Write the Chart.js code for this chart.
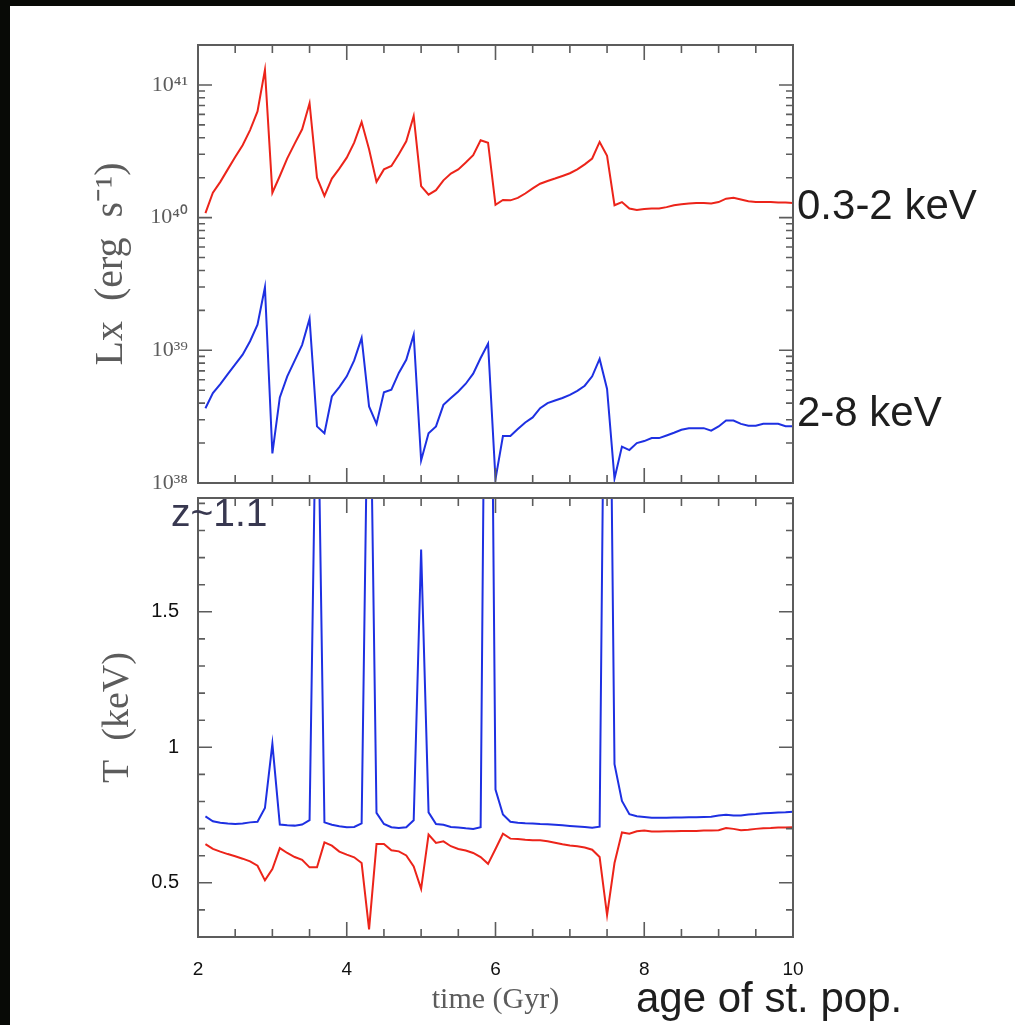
<!DOCTYPE html>
<html>
<head>
<meta charset="utf-8">
<script src="https://cdn.jsdelivr.net/npm/chart.js@4.4.0/dist/chart.umd.min.js"></script>
<style>
  html, body { margin: 0; padding: 0; background: #080a06; }
  #page { position: relative; width: 1015px; height: 1025px; overflow: hidden; background: #080a06; }
  #sheet { position: absolute; left: 10px; top: 6px; right: 0; bottom: 0; background: #fff; }
  .panel { position: absolute; left: 0; width: 1015px; }
  #topPanel { top: 0; height: 490px; }
  #bottomPanel { top: 490px; height: 535px; }
  .note { position: absolute; font-family: "Liberation Sans", Arial, sans-serif; color: #1e1e1e; white-space: nowrap; line-height: 1; }
</style>
</head>
<body>
<div id="page">
  <div id="sheet"></div>
  <div class="panel" id="topPanel"><canvas id="lumChart"></canvas></div>
  <div class="panel" id="bottomPanel"><canvas id="tempChart"></canvas></div>
  <div class="note" style="left:797px; top:184px; font-size:42px;">0.3-2 keV</div>
  <div class="note" style="left:797px; top:391px; font-size:42px;">2-8 keV</div>
  <div class="note" style="left:636px; top:977px; font-size:42px;">age of st. pop.</div>
  <div class="note" style="left:171px; top:493px; font-size:39px; color:#383850;">z~1.1</div>
</div>
<script>
// tiempos (Gyr)
const times = [
  2.1, 2.2, 2.3, 2.4, 2.5, 2.6, 2.7, 2.8, 2.9, 3.0,
  3.1, 3.2, 3.3, 3.4, 3.5, 3.6, 3.7, 3.8, 3.9, 4.0,
  4.1, 4.2, 4.3, 4.4, 4.5, 4.6, 4.7, 4.8, 4.9, 5.0,
  5.1, 5.2, 5.3, 5.4, 5.5, 5.6, 5.7, 5.8, 5.9, 6.0,
  6.1, 6.2, 6.3, 6.4, 6.5, 6.6, 6.7, 6.8, 6.9, 7.0,
  7.1, 7.2, 7.3, 7.4, 7.5, 7.6, 7.7, 7.8, 7.9, 8.0,
  8.1, 8.2, 8.3, 8.4, 8.5, 8.6, 8.7, 8.8, 8.9, 9.0,
  9.1, 9.2, 9.3, 9.4, 9.5, 9.6, 9.7, 9.8, 9.9, 10.0
];

// Lx 0.3-2 keV (erg/s)
const lxSoft = [
  1.08e40, 1.54e40, 1.86e40, 2.31e40, 2.86e40, 3.51e40, 4.57e40, 6.31e40, 1.30e41, 1.54e40,
  2.06e40, 2.80e40, 3.61e40, 4.63e40, 7.28e40, 2.00e40, 1.46e40, 1.97e40, 2.34e40, 2.83e40,
  3.67e40, 5.26e40, 3.27e40, 1.86e40, 2.31e40, 2.45e40, 3.00e40, 3.76e40, 5.83e40, 1.73e40,
  1.49e40, 1.61e40, 1.91e40, 2.15e40, 2.31e40, 2.60e40, 2.96e40, 3.83e40, 3.67e40, 1.25e40,
  1.36e40, 1.35e40, 1.41e40, 1.52e40, 1.66e40, 1.80e40, 1.89e40, 1.97e40, 2.06e40, 2.16e40,
  2.31e40, 2.52e40, 2.79e40, 3.72e40, 2.92e40, 1.24e40, 1.31e40, 1.17e40, 1.14e40, 1.16e40,
  1.17e40, 1.17e40, 1.20e40, 1.24e40, 1.26e40, 1.28e40, 1.29e40, 1.29e40, 1.28e40, 1.31e40,
  1.39e40, 1.41e40, 1.37e40, 1.33e40, 1.31e40, 1.31e40, 1.31e40, 1.30e40, 1.30e40, 1.29e40
];

// Lx 2-8 keV (erg/s)
const lxHard = [
  3.66e38, 4.76e38, 5.57e38, 6.62e38, 7.83e38, 9.27e38, 1.17e39, 1.56e39, 2.99e39, 1.67e38,
  4.42e38, 6.37e38, 8.36e38, 1.10e39, 1.73e39, 2.67e38, 2.37e38, 4.49e38, 5.28e38, 6.37e38,
  8.39e38, 1.24e39, 3.78e38, 2.79e38, 4.82e38, 5.05e38, 6.75e38, 8.49e38, 1.31e39, 1.48e38,
  2.37e38, 2.67e38, 3.88e38, 4.37e38, 4.90e38, 5.60e38, 6.67e38, 8.75e38, 1.12e39, 1.07e38,
  2.26e38, 2.26e38, 2.55e38, 2.86e38, 3.12e38, 3.66e38, 4.00e38, 4.19e38, 4.37e38, 4.62e38,
  4.95e38, 5.41e38, 6.37e38, 8.61e38, 5.11e38, 1.08e38, 1.88e38, 1.77e38, 2.00e38, 2.07e38,
  2.18e38, 2.18e38, 2.28e38, 2.39e38, 2.52e38, 2.59e38, 2.59e38, 2.59e38, 2.48e38, 2.67e38,
  2.96e38, 2.96e38, 2.79e38, 2.70e38, 2.70e38, 2.79e38, 2.79e38, 2.79e38, 2.68e38, 2.68e38
];

// T (keV), curva azul
const tempBlue = [
  0.745, 0.727, 0.722, 0.719, 0.717, 0.719, 0.723, 0.725, 0.776, 1.013,
  0.715, 0.712, 0.711, 0.715, 0.731, 2.55, 0.723, 0.714, 0.709, 0.705,
  0.706, 0.719, 2.7, 0.758, 0.717, 0.705, 0.702, 0.705, 0.731, 1.73,
  0.760, 0.717, 0.714, 0.706, 0.704, 0.701, 0.699, 0.705, 4.0, 0.844,
  0.752, 0.725, 0.722, 0.720, 0.719, 0.717, 0.716, 0.714, 0.712, 0.710,
  0.708, 0.706, 0.703, 0.707, 3.6, 0.938, 0.802, 0.753, 0.746, 0.743,
  0.740, 0.740, 0.740, 0.741, 0.741, 0.742, 0.742, 0.743, 0.744, 0.748,
  0.751, 0.748, 0.748, 0.752, 0.754, 0.757, 0.758, 0.759, 0.760, 0.762
];

// T (keV), curva roja
const tempRed = [
  0.643, 0.625, 0.615, 0.606, 0.598, 0.589, 0.579, 0.563, 0.509, 0.551,
  0.628, 0.610, 0.595, 0.585, 0.557, 0.557, 0.649, 0.637, 0.615, 0.604,
  0.594, 0.573, 0.328, 0.643, 0.643, 0.620, 0.616, 0.601, 0.560, 0.478,
  0.678, 0.647, 0.653, 0.635, 0.625, 0.619, 0.610, 0.595, 0.570, 0.625,
  0.681, 0.663, 0.662, 0.659, 0.657, 0.657, 0.653, 0.648, 0.642, 0.638,
  0.635, 0.630, 0.622, 0.595, 0.381, 0.573, 0.686, 0.681, 0.690, 0.693,
  0.689, 0.689, 0.690, 0.690, 0.691, 0.691, 0.691, 0.693, 0.693, 0.694,
  0.702, 0.699, 0.694, 0.696, 0.699, 0.701, 0.702, 0.704, 0.704, 0.705
];

// etiquetas de los ejes
const timeTicks = [2, 4, 6, 8, 10];
const lumTicks = [1e38, 1e39, 1e40, 1e41];
const tempTicks = [0.5, 1, 1.5];

const RED = 'rgb(236,36,26)';
const BLUE = 'rgb(30,48,226)';
const GREY = '#5c5c5c';
const SERIF = '"Liberation Serif", "Times New Roman", serif';
const SANS = '"Liberation Sans", Arial, sans-serif';

const SUP = { '0': '⁰', '1': '¹', '2': '²', '3': '³', '4': '⁴', '5': '⁵', '6': '⁶', '7': '⁷', '8': '⁸', '9': '⁹' };
const pow10Label = v => '10' + String(Math.round(Math.log10(v))).split('').map(c => SUP[c]).join('');

const toPoints = ys => times.map((t, i) => ({ x: t, y: ys[i] }));

// marcas hacia dentro en los cuatro lados
const timeMarks = [];
for (let k = 4; k <= 20; k++) timeMarks.push([k / 2, k % 4 === 0]);
const lumMarks = [];
for (let e = 38; e <= 41; e++) {
  for (let m = 1; m <= 9; m++) {
    const v = m * Math.pow(10, e);
    if (v <= 2e41) lumMarks.push([v, m === 1]);
  }
}
const tempMarks = [];
for (let k = 3; k <= 19; k++) tempMarks.push([k / 10, k % 5 === 0]);

const frameTicks = {
  id: 'frameTicks',
  afterDatasetsDraw(chart, args, opts) {
    const { ctx, chartArea: a, scales } = chart;
    ctx.save();
    ctx.strokeStyle = GREY;
    ctx.lineWidth = 1.6;
    ctx.beginPath();
    opts.xMarks.forEach(([v, major]) => {
      const px = scales.x.getPixelForValue(v);
      const len = major ? 15 : 8;
      ctx.moveTo(px, a.bottom); ctx.lineTo(px, a.bottom - len);
      ctx.moveTo(px, a.top); ctx.lineTo(px, a.top + len);
    });
    opts.yMarks.forEach(([v, major]) => {
      const py = scales.y.getPixelForValue(v);
      const len = major ? 14 : 7;
      ctx.moveTo(a.left, py); ctx.lineTo(a.left + len, py);
      ctx.moveTo(a.right, py); ctx.lineTo(a.right - len, py);
    });
    ctx.stroke();
    ctx.lineWidth = 2;
    ctx.strokeRect(a.left, a.top, a.right - a.left, a.bottom - a.top);
    ctx.restore();
  }
};

// ancho fijo del eje y, sin margen extra por las etiquetas
const fixY = s => { s.width = 198; s.paddingTop = 0; s.paddingBottom = 0; };
const fixX = s => { s.height = 88; s.paddingLeft = 0; s.paddingRight = 0; };

const lineSet = (ys, color) => ({
  data: toPoints(ys),
  borderColor: color,
  borderWidth: 2,
  pointRadius: 0,
  tension: 0,
  fill: false
});

// Panel superior: luminosidad
new Chart(document.getElementById('lumChart'), {
  type: 'line',
  data: { datasets: [lineSet(lxSoft, RED), lineSet(lxHard, BLUE)] },
  options: {
    responsive: true,
    maintainAspectRatio: false,
    animation: false,
    layout: { padding: { left: 0, right: 222, top: 45, bottom: 7 } },
    plugins: {
      legend: { display: false },
      tooltip: { enabled: false },
      frameTicks: { xMarks: timeMarks, yMarks: lumMarks }
    },
    scales: {
      x: { type: 'linear', min: 2, max: 10, display: false },
      y: {
        type: 'logarithmic',
        min: 1e38,
        max: 2e41,
        afterFit: fixY,
        afterBuildTicks: s => { s.ticks = lumTicks.map(v => ({ value: v })); },
        grid: { display: false, drawTicks: false },
        border: { display: false },
        ticks: {
          callback: v => pow10Label(v),
          color: GREY,
          font: { family: SERIF, size: 22 },
          padding: 10
        },
        title: {
          display: true,
          text: 'Lx  (erg  s⁻¹)',
          color: GREY,
          font: { family: SERIF, size: 40 },
          padding: { top: 87, bottom: 0 }
        }
      }
    }
  },
  plugins: [frameTicks]
});

// Panel inferior: temperatura
new Chart(document.getElementById('tempChart'), {
  type: 'line',
  data: { datasets: [lineSet(tempBlue, BLUE), lineSet(tempRed, RED)] },
  options: {
    responsive: true,
    maintainAspectRatio: false,
    animation: false,
    layout: { padding: { left: 0, right: 222, top: 8, bottom: 0 } },
    plugins: {
      legend: { display: false },
      tooltip: { enabled: false },
      frameTicks: { xMarks: timeMarks, yMarks: tempMarks }
    },
    scales: {
      x: {
        type: 'linear',
        min: 2,
        max: 10,
        afterFit: fixX,
        afterBuildTicks: s => { s.ticks = timeTicks.map(v => ({ value: v })); },
        grid: { display: false, drawTicks: false },
        border: { display: false },
        ticks: {
          autoSkip: false,
          maxRotation: 0,
          color: '#111',
          font: { family: SANS, size: 19 },
          padding: 21
        },
        title: {
          display: true,
          text: 'time (Gyr)',
          color: GREY,
          font: { family: SERIF, size: 30 },
          padding: { top: 0, bottom: 7 }
        }
      },
      y: {
        type: 'linear',
        min: 0.3,
        max: 1.92,
        afterFit: fixY,
        afterBuildTicks: s => { s.ticks = tempTicks.map(v => ({ value: v })); },
        grid: { display: false, drawTicks: false },
        border: { display: false },
        ticks: {
          callback: v => String(v),
          color: '#111',
          font: { family: SANS, size: 20 },
          padding: 19
        },
        title: {
          display: true,
          text: 'T  (keV)',
          color: GREY,
          font: { family: SERIF, size: 38 },
          padding: { top: 95, bottom: 0 }
        }
      }
    }
  },
  plugins: [frameTicks]
});
</script>
</body>
</html>
